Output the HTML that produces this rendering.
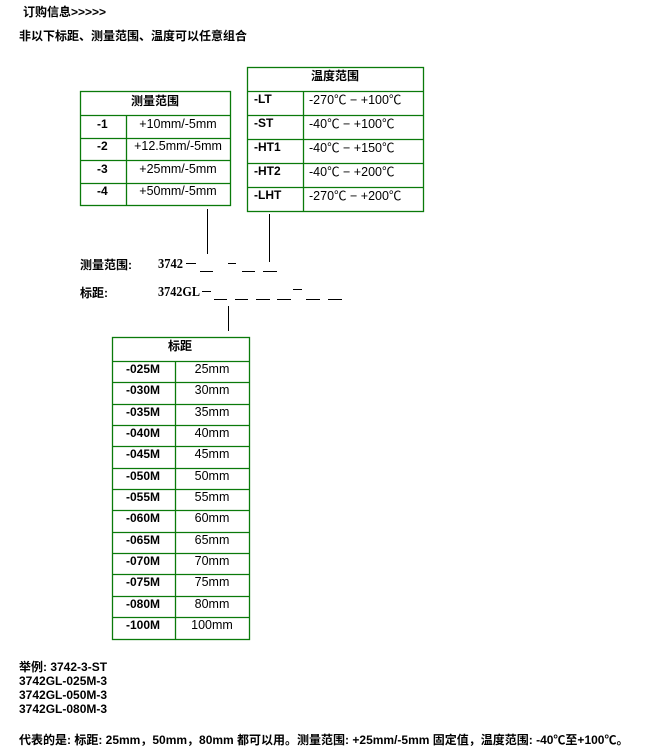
<!DOCTYPE html>
<html><head><meta charset="utf-8"><style>
html,body{margin:0;padding:0;background:#fff;}
svg{display:block;}
.b{font-family:"Liberation Sans","Noto Sans CJK SC",sans-serif;font-weight:bold;font-size:12px;fill:#000;}
.r{font-family:"Liberation Sans","Noto Sans CJK SC",sans-serif;font-size:12.5px;fill:#000;}
.s{font-family:"Liberation Serif","Noto Serif CJK SC",serif;font-weight:bold;font-size:14px;fill:#000;}
.g{stroke:#0a7a0a;stroke-width:1.3;fill:none;}
</style></head><body>
<svg width="669" height="753" xmlns="http://www.w3.org/2000/svg">
<text class="b" x="23" y="16" font-size="13">订购信息&gt;&gt;&gt;&gt;&gt;</text>
<text class="b" x="19" y="40">非以下标距、测量范围、温度可以任意组合</text>

<rect class="g" x="80.5" y="91.5" width="150" height="114"/>
<line class="g" x1="80" y1="115.5" x2="230" y2="115.5"/>
<line class="g" x1="80" y1="138.5" x2="230" y2="138.5"/>
<line class="g" x1="80" y1="160.5" x2="230" y2="160.5"/>
<line class="g" x1="80" y1="183.5" x2="230" y2="183.5"/>
<line class="g" x1="126.5" y1="115" x2="126.5" y2="205"/>
<text class="b" x="155" y="105" text-anchor="middle">测量范围</text>
<text class="b" x="97" y="128">-1</text><text class="r" x="178" y="128" text-anchor="middle">+10mm/-5mm</text>
<text class="b" x="97" y="150">-2</text><text class="r" x="178" y="150" text-anchor="middle">+12.5mm/-5mm</text>
<text class="b" x="97" y="173">-3</text><text class="r" x="178" y="173" text-anchor="middle">+25mm/-5mm</text>
<text class="b" x="97" y="195">-4</text><text class="r" x="178" y="195" text-anchor="middle">+50mm/-5mm</text>

<rect class="g" x="247.5" y="67.5" width="176" height="144"/>
<line class="g" x1="247" y1="91.5" x2="423" y2="91.5"/>
<line class="g" x1="247" y1="115.5" x2="423" y2="115.5"/>
<line class="g" x1="247" y1="139.5" x2="423" y2="139.5"/>
<line class="g" x1="247" y1="163.5" x2="423" y2="163.5"/>
<line class="g" x1="247" y1="187.5" x2="423" y2="187.5"/>
<line class="g" x1="303.5" y1="91" x2="303.5" y2="211"/>
<text class="b" x="335" y="80" text-anchor="middle">温度范围</text>
<text class="b" x="254" y="103">-LT</text><text class="r" x="309" y="104">-270℃ − +100℃</text>
<text class="b" x="254" y="127">-ST</text><text class="r" x="309" y="128">-40℃ − +100℃</text>
<text class="b" x="254" y="151">-HT1</text><text class="r" x="309" y="152">-40℃ − +150℃</text>
<text class="b" x="254" y="175">-HT2</text><text class="r" x="309" y="176">-40℃ − +200℃</text>
<text class="b" x="254" y="199">-LHT</text><text class="r" x="309" y="200">-270℃ − +200℃</text>

<g stroke="#000" stroke-width="1">
<line x1="207.5" y1="209" x2="207.5" y2="254"/>
<line x1="269.5" y1="214" x2="269.5" y2="262"/>
<line x1="228.5" y1="306" x2="228.5" y2="331"/>
<line x1="200" y1="271.5" x2="213" y2="271.5"/>
<line x1="228" y1="263.5" x2="236" y2="263.5"/>
<line x1="242" y1="271.5" x2="255" y2="271.5"/>
<line x1="263" y1="271.5" x2="277" y2="271.5"/>
<line x1="214" y1="299.5" x2="227" y2="299.5"/>
<line x1="235" y1="299.5" x2="248" y2="299.5"/>
<line x1="256" y1="299.5" x2="270" y2="299.5"/>
<line x1="277" y1="299.5" x2="291" y2="299.5"/>
<line x1="293" y1="289.5" x2="302" y2="289.5"/>
<line x1="306" y1="299.5" x2="320" y2="299.5"/>
<line x1="328" y1="299.5" x2="342" y2="299.5"/>
<line x1="186" y1="263.5" x2="196" y2="263.5"/>
<line x1="202" y1="291.5" x2="211" y2="291.5"/>
</g>
<text class="b" x="80" y="269" font-size="14">测量范围:</text>
<text class="s" x="158" y="268" textLength="25" lengthAdjust="spacingAndGlyphs">3742</text>
<text class="b" x="80" y="297" font-size="14">标距:</text>
<text class="s" x="158" y="296" textLength="42" lengthAdjust="spacingAndGlyphs">3742GL</text>

<rect class="g" x="112.5" y="337.5" width="137" height="302"/>
<line class="g" x1="175.5" y1="362" x2="175.5" y2="639"/>
<line class="g" x1="112" y1="361.5" x2="249" y2="361.5"/>
<line class="g" x1="112" y1="382.5" x2="249" y2="382.5"/>
<line class="g" x1="112" y1="404.5" x2="249" y2="404.5"/>
<line class="g" x1="112" y1="425.5" x2="249" y2="425.5"/>
<line class="g" x1="112" y1="446.5" x2="249" y2="446.5"/>
<line class="g" x1="112" y1="468.5" x2="249" y2="468.5"/>
<line class="g" x1="112" y1="489.5" x2="249" y2="489.5"/>
<line class="g" x1="112" y1="510.5" x2="249" y2="510.5"/>
<line class="g" x1="112" y1="532.5" x2="249" y2="532.5"/>
<line class="g" x1="112" y1="553.5" x2="249" y2="553.5"/>
<line class="g" x1="112" y1="574.5" x2="249" y2="574.5"/>
<line class="g" x1="112" y1="596.5" x2="249" y2="596.5"/>
<line class="g" x1="112" y1="617.5" x2="249" y2="617.5"/>
<text class="b" x="180" y="350" text-anchor="middle">标距</text>
<g class="b"><text x="126" y="373">-025M</text><text x="126" y="394">-030M</text><text x="126" y="416">-035M</text><text x="126" y="437">-040M</text><text x="126" y="458">-045M</text><text x="126" y="480">-050M</text><text x="126" y="501">-055M</text><text x="126" y="522">-060M</text><text x="126" y="544">-065M</text><text x="126" y="565">-070M</text><text x="126" y="586">-075M</text><text x="126" y="608">-080M</text><text x="126" y="629">-100M</text></g>
<g class="r" text-anchor="middle"><text x="212" y="373">25mm</text><text x="212" y="394">30mm</text><text x="212" y="416">35mm</text><text x="212" y="437">40mm</text><text x="212" y="458">45mm</text><text x="212" y="480">50mm</text><text x="212" y="501">55mm</text><text x="212" y="522">60mm</text><text x="212" y="544">65mm</text><text x="212" y="565">70mm</text><text x="212" y="586">75mm</text><text x="212" y="608">80mm</text><text x="212" y="629">100mm</text></g>

<g class="b" font-size="11.5">
<text x="19" y="671">举例: 3742-3-ST</text>
<text x="19" y="685">3742GL-025M-3</text>
<text x="19" y="699">3742GL-050M-3</text>
<text x="19" y="713">3742GL-080M-3</text>
<text x="19" y="744">代表的是: 标距: 25mm，50mm，80mm 都可以用。测量范围: +25mm/-5mm 固定值，温度范围: -40℃至+100℃。</text>
</g>
</svg>
</body></html>
